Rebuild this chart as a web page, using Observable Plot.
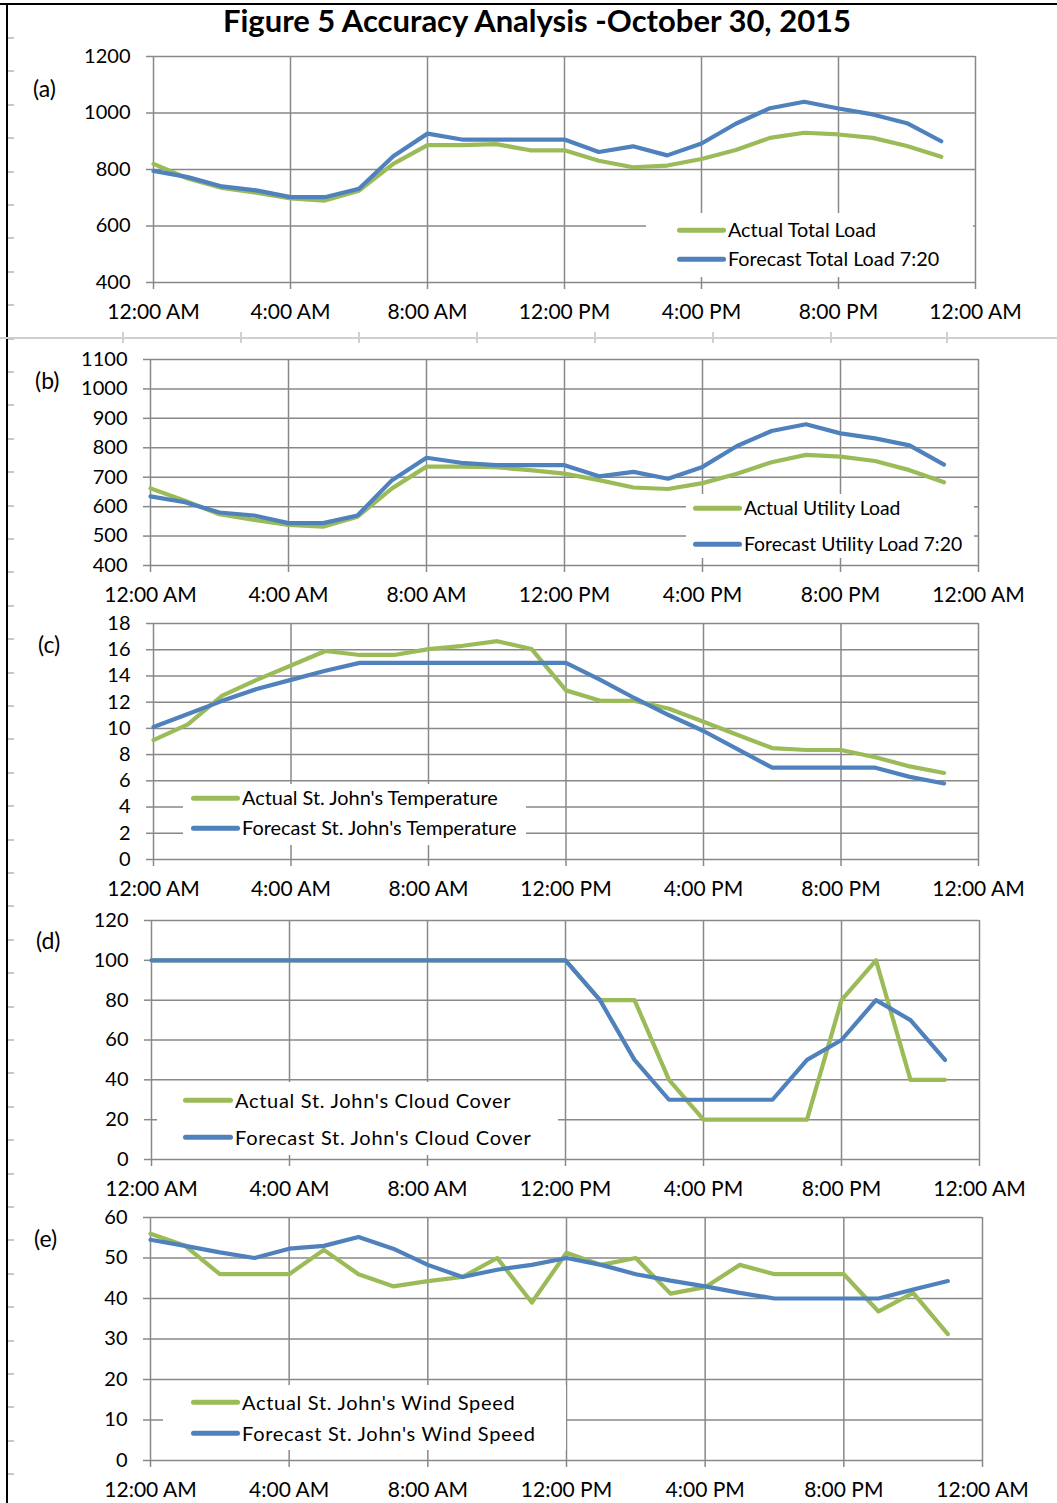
<!DOCTYPE html>
<html><head><meta charset="utf-8">
<script src="https://cdn.jsdelivr.net/npm/d3@7"></script>
<script src="https://cdn.jsdelivr.net/npm/@observablehq/plot@0.6"></script>
<style>
html,body{margin:0;padding:0;background:#fff;}
#page{position:relative;width:1057px;height:1503px;overflow:hidden;font-family:Lato,"Open Sans",sans-serif;color:#000;background:#fff;}
.panel{position:absolute;left:0;}
.panel svg{display:block;overflow:visible;}
.lbl{position:absolute;transform:translateY(-50%);white-space:nowrap;line-height:1;}
.legend{position:absolute;background:#fff;}
.swatch{position:absolute;height:4.5px;border-radius:2.5px;transform:translateY(-50%);}
.deco{position:absolute;}
</style></head><body><div id="page"></div>
<script>
// ---------- data ----------
const hours = [0,1,2,3,4,5,6,7,8,9,10,11,12,13,14,15,16,17,18,19,20,21,22,23];
const xTicks = [0,4,8,12,16,20,24];
const xTickLabels = ["12:00 AM","4:00 AM","8:00 AM","12:00 PM","4:00 PM","8:00 PM","12:00 AM"];

const totalActual   = [820,768,735,718,698,690,725,820,886,886,890,868,868,831,808,814,837,869,912,930,924,912,883,845];
const totalForecast = [795,773,740,726,702,702,732,847,927,906,906,906,906,862,882,850,892,962,1017,1040,1016,995,964,900];
const totalTicks = [400,600,800,1000,1200];

const utilityActual   = [662,620,574,555,538,532,566,662,736,736,734,724,712,690,665,660,680,712,751,776,770,755,724,683];
const utilityForecast = [635,615,580,570,544,544,570,690,766,749,741,741,741,703,718,695,735,806,857,880,849,832,808,743];
const utilityTicks = [400,500,600,700,800,900,1000,1100];

const tempActual   = [9.1,10.3,12.5,13.7,14.8,15.9,15.6,15.6,16.05,16.3,16.65,16.05,12.9,12.1,12.1,11.5,10.5,9.5,8.5,8.35,8.35,7.8,7.1,6.6];
const tempForecast = [10.1,11.1,12.1,13.0,13.7,14.4,15.0,15.0,15.0,15.0,15.0,15.0,15.0,13.7,12.3,11.0,9.8,8.4,7.0,7.0,7.0,7.0,6.3,5.8];
const tempTicks = [0,2,4,6,8,10,12,14,16,18];

const cloudActual   = [100,100,100,100,100,100,100,100,100,100,100,100,100,80,80,40,20,20,20,20,80,100,40,40];
const cloudForecast = [100,100,100,100,100,100,100,100,100,100,100,100,100,80,50,30,30,30,30,50,60,80,70,50];
const cloudTicks = [0,20,40,60,80,100,120];

const windActual   = [56,53,46,46,46,52,46,43,44.3,45.3,50,39,51.3,48.3,50,41.2,42.8,48.3,46,46,46,36.8,41.4,31.2];
const windForecast = [54.5,53,51.4,50,52.3,53,55.2,52.3,48.3,45.3,47.1,48.3,50,48.3,46,44.4,43,41.4,40,40,40,40,42.2,44.3];
const windTicks = [0,10,20,30,40,50,60];

const title = "Figure 5 Accuracy Analysis -October 30, 2015";
const panelLabels = ["(a)","(b)","(c)","(d)","(e)"];
const actualNames = ["Actual Total Load","Actual Utility Load","Actual St. John's Temperature","Actual St. John's Cloud Cover","Actual St. John's Wind Speed"];
const forecastNames = ["Forecast Total Load 7:20","Forecast Utility Load 7:20","Forecast St. John's Temperature","Forecast St. John's Cloud Cover","Forecast St. John's Wind Speed"];

// ---------- style ----------
const GREEN = "#9bbb59", BLUE = "#4f81bd", GRID = "#888888";
const W = 1057;
const page = document.getElementById("page");

function el(cls, css, text) {
  const d = document.createElement("div");
  d.className = cls;
  Object.assign(d.style, css);
  if (text != null) d.textContent = text;
  page.appendChild(d);
  return d;
}

// decorations (page frame)
el("deco", {left:"0px", top:"3px", width:W+"px", height:"2px", background:"#000"});
el("deco", {left:"6px", top:"3px", width:"2px", height:"1500px", background:"#000"});
el("deco", {left:"0px", top:"337px", width:W+"px", height:"2px", background:"#cfcfcf"});
[123,241,359,477,595,713,831,947].forEach(x => el("deco", {left:(x-1)+"px", top:"332px", width:"2px", height:"11px", background:"#cfcfcf"}));
for (let y = 38; y < 1500; y += 33.4) el("deco", {left:"8px", top:(y-1)+"px", width:"6px", height:"2px", background:"#c8c8c8"});

// title
el("lbl", {left:"0px", width:"1074px", textAlign:"center", top:"20px", fontSize:"31px", fontWeight:"bold"}, title);

const panels = [
  {a: totalActual, f: totalForecast, ticks: totalTicks, dom:[400,1200], left:153, right:975, top:56, bottom:282,
   label:{x:33,y:88}, box:{l:646,t:213,r:973,b:277}, sx:677, sw:49, ya:230, yf:259, fs:19.8, ls:0},
  {a: utilityActual, f: utilityForecast, ticks: utilityTicks, dom:[400,1100], left:150, right:978, top:359, bottom:565,
   label:{x:35,y:380}, box:{l:686,t:494,r:974,b:558}, sx:693, sw:49, ya:508, yf:544, fs:19.4, ls:0},
  {a: tempActual, f: tempForecast, ticks: tempTicks, dom:[0,18], left:153, right:978, top:623, bottom:859,
   label:{x:38,y:644}, box:{l:183,t:784,r:526,b:845}, sx:191, sw:49, ya:798, yf:828, fs:19.9, ls:0},
  {a: cloudActual, f: cloudForecast, ticks: cloudTicks, dom:[0,120], left:151, right:979, top:920, bottom:1159,
   label:{x:36,y:940}, box:{l:157,t:1082,r:558,b:1155}, sx:183, sw:50, ya:1100, yf:1137, fs:20, ls:0.7},
  {a: windActual, f: windForecast, ticks: windTicks, dom:[0,60], left:150, right:982, top:1217, bottom:1460,
   label:{x:34,y:1238}, box:{l:163,t:1385,r:566,b:1450}, sx:191, sw:49, ya:1402, yf:1433, fs:20, ls:0.7}
];

panels.forEach((p, i) => {
  const mt = 20, mb = 45;
  const svgTop = p.top - mt;
  const height = mt + (p.bottom - p.top) + mb;
  const chart = Plot.plot({
    width: W, height,
    marginLeft: p.left, marginRight: W - p.right, marginTop: mt, marginBottom: mb,
    x: {domain: [0, 24], axis: null},
    y: {domain: p.dom, axis: null},
    style: {fontFamily: "Lato, 'Open Sans', sans-serif", background: "transparent", color: "#000"},
    marks: [
      Plot.gridY(p.ticks, {stroke: GRID, strokeOpacity: 1, strokeWidth: 1.5}),
      Plot.gridX(xTicks, {stroke: GRID, strokeOpacity: 1, strokeWidth: 1.5}),
      Plot.axisY(p.ticks, {tickSize: 7, tickPadding: 16, fontSize: 20, stroke: GRID, strokeWidth: 1.5, fill: "#000", tickFormat: d => String(d)}),
      Plot.axisX(xTicks, {tickSize: 7, tickPadding: 15, fontSize: 21, stroke: GRID, strokeWidth: 1.5, fill: "#000", tickFormat: (d, k) => xTickLabels[k]}),
      Plot.line(hours, {x: hours, y: p.a, stroke: GREEN, strokeWidth: 4.2, strokeLinejoin: "round", strokeLinecap: "round"}),
      Plot.line(hours, {x: hours, y: p.f, stroke: BLUE, strokeWidth: 4.2, strokeLinejoin: "round", strokeLinecap: "round"})
    ]
  });
  const wrap = el("panel", {top: svgTop + "px"});
  wrap.appendChild(chart);

  // panel letter
  el("lbl", {left: p.label.x + "px", top: p.label.y + "px", fontSize: "23px"}, panelLabels[i]);

  // legend
  el("legend", {left: p.box.l + "px", top: p.box.t + "px", width: (p.box.r - p.box.l) + "px", height: (p.box.b - p.box.t) + "px"});
  el("swatch", {left: p.sx + "px", top: p.ya + "px", width: p.sw + "px", background: GREEN});
  el("swatch", {left: p.sx + "px", top: p.yf + "px", width: p.sw + "px", background: BLUE});
  const ts = {fontSize: p.fs + "px", letterSpacing: p.ls + "px"};
  el("lbl", Object.assign({left: (p.sx + p.sw + 2) + "px", top: p.ya + "px"}, ts), actualNames[i]);
  el("lbl", Object.assign({left: (p.sx + p.sw + 2) + "px", top: p.yf + "px"}, ts), forecastNames[i]);
});
</script>
</body></html>
